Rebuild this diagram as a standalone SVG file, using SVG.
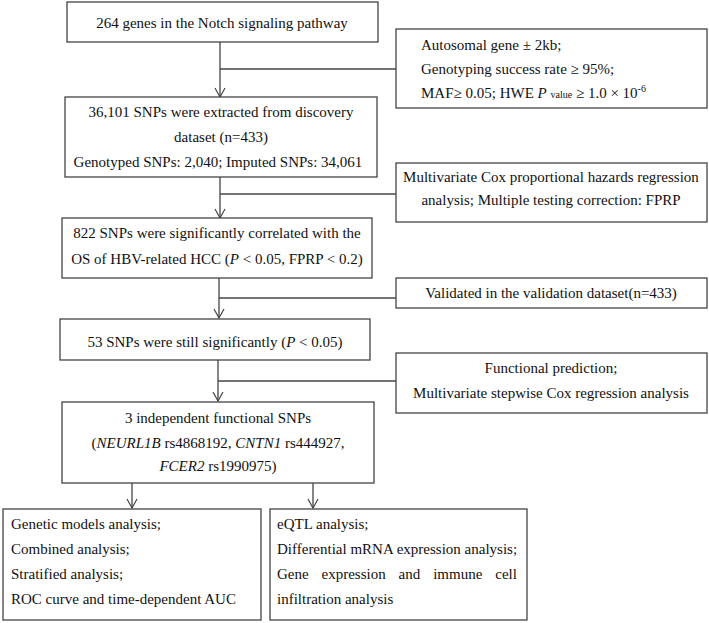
<svg xmlns="http://www.w3.org/2000/svg" width="709" height="623" viewBox="0 0 709 623">
<defs>
<style>
.box{fill:#fff;stroke:#444;stroke-width:1.3}
.ln{fill:none;stroke:#444;stroke-width:1.3}
text{font-family:"Liberation Serif","Times New Roman",serif;font-size:15px;fill:#111}
.c{text-anchor:middle}
.i{font-style:italic}
</style>
<marker id="ah" viewBox="0 0 12 12" refX="11" refY="6" markerWidth="12" markerHeight="12" markerUnits="userSpaceOnUse" orient="auto">
<path d="M2,1 L11,6 L2,11" fill="none" stroke="#444" stroke-width="1.2"/>
</marker>
</defs>
<rect width="709" height="623" fill="#fff"/>
<g id="connectors">
<path class="ln" d="M220,42 V97" marker-end="url(#ah)"/>
<path class="ln" d="M220,69 H396"/>
<path class="ln" d="M220,177 V218" marker-end="url(#ah)"/>
<path class="ln" d="M220,194 H396"/>
<path class="ln" d="M219,278 V318" marker-end="url(#ah)"/>
<path class="ln" d="M219,298 H396"/>
<path class="ln" d="M218,360 V401" marker-end="url(#ah)"/>
<path class="ln" d="M218,381 H396"/>
<path class="ln" d="M132,483 V508" marker-end="url(#ah)"/>
<path class="ln" d="M313,483 V508" marker-end="url(#ah)"/>
</g>
<g id="n1">
<rect class="box" x="67" y="2" width="311" height="40"/>
<text class="c" x="222" y="28">264 genes in the Notch signaling pathway</text>
</g>
<g id="s1">
<rect class="box" x="396" y="29" width="311" height="79"/>
<text x="421" y="50">Autosomal gene ± 2kb;</text>
<text x="421" y="74">Genotyping success rate ≥ 95%;</text>
<text x="421" y="98">MAF≥ 0.05; HWE <tspan class="i">P</tspan> <tspan font-size="10">value</tspan> ≥ 1.0 × 10<tspan font-size="10" dy="-6">-6</tspan></text>
</g>
<g id="n2">
<rect class="box" x="65" y="97" width="312" height="80"/>
<text class="c" x="221" y="117">36,101 SNPs were extracted from discovery</text>
<text class="c" x="221" y="142">dataset (n=433)</text>
<text class="c" x="218" y="167">Genotyped SNPs: 2,040; Imputed SNPs: 34,061</text>
</g>
<g id="s2">
<rect class="box" x="396" y="163" width="311" height="59"/>
<text class="c" x="551" y="182">Multivariate Cox proportional hazards regression</text>
<text class="c" x="551" y="205">analysis; Multiple testing correction: FPRP</text>
</g>
<g id="n3">
<rect class="box" x="62" y="218" width="310" height="60"/>
<text class="c" x="217" y="238">822 SNPs were significantly correlated with the</text>
<text class="c" x="217" y="264">OS of HBV-related HCC (<tspan class="i">P</tspan> &lt; 0.05, FPRP &lt; 0.2)</text>
</g>
<g id="s3">
<rect class="box" x="396" y="278" width="311" height="30"/>
<text class="c" x="551" y="298">Validated in the validation dataset(n=433)</text>
</g>
<g id="n4">
<rect class="box" x="60" y="319" width="310" height="41"/>
<text class="c" x="215" y="347">53 SNPs were still significantly (<tspan class="i">P</tspan> &lt; 0.05)</text>
</g>
<g id="s4">
<rect class="box" x="396" y="353" width="311" height="60"/>
<text class="c" x="551" y="373">Functional prediction;</text>
<text class="c" x="551" y="398">Multivariate stepwise Cox regression analysis</text>
</g>
<g id="n5">
<rect class="box" x="62" y="402" width="312" height="81"/>
<text class="c" x="218" y="423">3 independent functional SNPs</text>
<text class="c" x="218" y="448">(<tspan class="i">NEURL1B</tspan> rs4868192, <tspan class="i">CNTN1</tspan> rs444927,</text>
<text class="c" x="218" y="471"><tspan class="i">FCER2</tspan> rs1990975)</text>
</g>
<g id="n6">
<rect class="box" x="3" y="509" width="258" height="111"/>
<text x="11" y="529">Genetic models analysis;</text>
<text x="11" y="554">Combined analysis;</text>
<text x="11" y="579">Stratified analysis;</text>
<text x="11" y="604">ROC curve and time-dependent AUC</text>
</g>
<g id="n7">
<rect class="box" x="270" y="509" width="257" height="111"/>
<text x="277" y="529">eQTL analysis;</text>
<text x="277" y="554">Differential mRNA expression analysis;</text>
<text y="579"><tspan x="277">Gene</tspan><tspan x="321.5">expression</tspan><tspan x="398.6">and</tspan><tspan x="433.2">immune</tspan><tspan x="495.3">cell</tspan></text>
<text x="277" y="604">infiltration analysis</text>
</g>
</svg>
